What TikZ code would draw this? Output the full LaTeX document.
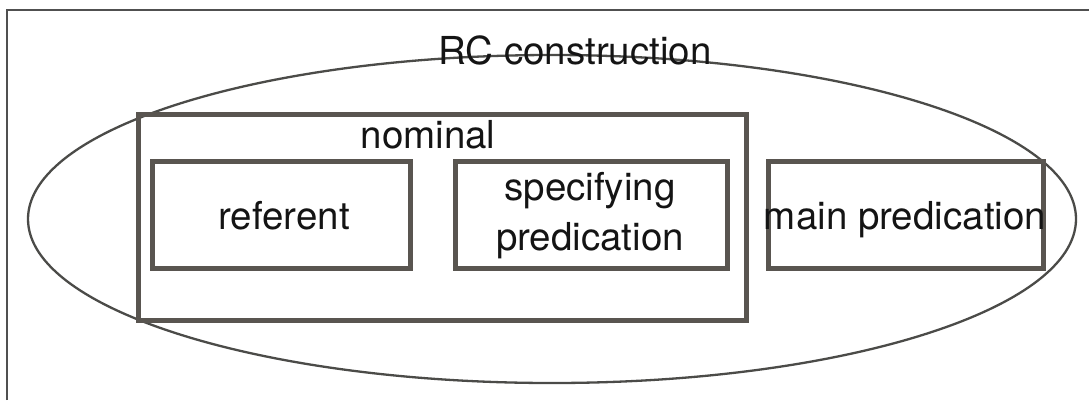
\documentclass[tikz,border=0pt]{standalone}
\usepackage{fontspec}
\setmainfont{TeX Gyre Heros}
\usetikzlibrary{shapes.geometric}
\definecolor{boxc}{RGB}{89,85,80}
\definecolor{ellc}{RGB}{75,75,72}
\definecolor{framec}{RGB}{80,80,80}
\begin{document}
\begin{tikzpicture}[x=1pt,y=-1pt,
  box/.style={draw=boxc, line width=5pt, rectangle, inner sep=0pt},
  lbl/.style={anchor=base, inner sep=0pt, text=black!92, font=\fontsize{38.5}{46}\selectfont},
  lblc/.style={inner sep=0pt, text=black!92, align=center, font=\fontsize{38.5}{50}\selectfont}]
\useasboundingbox (0,0) rectangle (1089,400);
% outer frame (left and top edges visible)
\coordinate (fbl) at (7,400);
\coordinate (ftl) at (7,10);
\coordinate (ftr) at (1089,10);
\draw[framec, line width=2pt] (fbl) -- (ftl) -- (ftr);
% ellipse
\node[draw=ellc, line width=2.3pt, ellipse, inner sep=0pt, minimum width=1048pt, minimum height=328pt] (rc) at (552,219) {};
% boxes
\node[box, minimum width=608pt, minimum height=206pt] (nominal) at (442,217) {};
\node[box, minimum width=258pt, minimum height=107pt] (referent) at (281,214.5) {};
\node[box, minimum width=272pt, minimum height=107pt] (spec) at (591,214.5) {};
\node[box, minimum width=275pt, minimum height=107pt] (main) at (905.5,214.5) {};
% labels
\node[lbl] (trc) at (575,64) {RC construction};
\node[lbl] (tnom) at (428,148) {nominal};
\node[lbl] (tref) at (284,229) {referent};
\node[lblc] (tspec) at (590,216) {specifying\\predication};
\node[lbl] (tmain) at (905,229) {main predication};
\end{tikzpicture}
\end{document}
